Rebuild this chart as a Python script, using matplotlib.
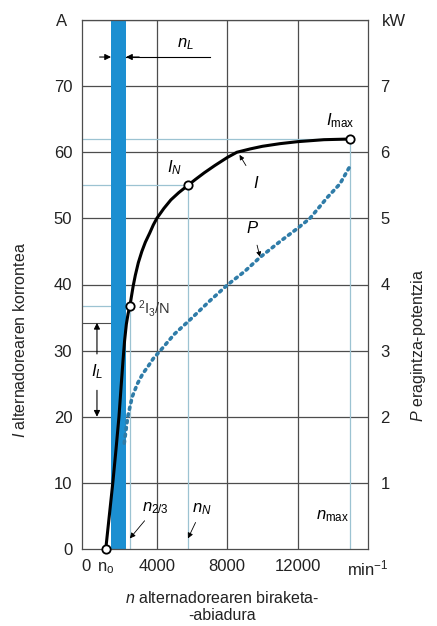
import matplotlib
matplotlib.use("Agg")
import matplotlib.pyplot as plt

plt.rcParams['font.family'] = ['Liberation Sans', 'DejaVu Sans']
plt.rcParams['mathtext.fontset'] = 'custom'
plt.rcParams['mathtext.rm'] = 'Liberation Sans'
plt.rcParams['mathtext.it'] = 'Liberation Sans:italic'

# Alternator current I (A) versus speed n (min^-1)
n_current = [1100, 1300, 1500, 1680, 1850, 1970, 2080, 2170, 2270, 2370, 2470, 2560,
             2660, 2780, 2950, 3150, 3350, 3600, 3800, 4000, 4400, 4800, 5250, 5770,
             6200, 6700, 7300, 8000, 8550, 9300, 10000, 11000, 12000, 13500, 15000]
current = [0, 5, 10, 15, 20, 24.5, 28.5, 31.5, 34, 35.6, 36.7, 38.2,
           39.8, 41.4, 43.3, 45, 46.4, 47.8, 49, 50, 51.5, 52.8, 53.9, 55,
           55.9, 56.9, 58, 59.2, 60, 60.5, 60.9, 61.3, 61.6, 61.9, 62]

# Output power P (kW) versus speed n
n_power = [2150, 2250, 2350, 2600, 2900, 3200, 3500, 3800, 4200, 5000, 5900, 7000,
           8040, 9000, 9860, 11000, 12000, 12700, 13700, 14400, 15000]
power = [1.6, 1.8, 2.0, 2.3, 2.5, 2.65, 2.76, 2.88, 3.0, 3.25, 3.47, 3.75,
         4.0, 4.2, 4.41, 4.65, 4.85, 5.0, 5.32, 5.52, 5.8]

# Characteristic operating points
n0 = 1100
n_23, I_23 = 2470, 36.7
n_N, I_N = 5770, 55
n_max, I_max = 15000, 62
band_lo, band_hi = 1400, 2250          # idle speed range n_L
I_L_top = 34.2                           # idle current I_L range top
I_L_bot = 20

x_ticks = [0, 4000, 8000, 12000]
y_ticks = [0, 10, 20, 30, 40, 50, 60, 70]
p_ticks = [1, 2, 3, 4, 5, 6, 7]

GRID = '#4d4d4d'
AUX = '#9cc3d2'
BLUE = '#1c8fd1'
PCOL = '#2f7ca8'

fig = plt.figure(figsize=(4.37, 6.26), dpi=100)
ax = fig.add_axes([82/437, 1 - 549/626, (368-82)/437, (549-20)/626])
ax.set_xlim(-250, 16000)
ax.set_ylim(0, 80)

# grid
for x in x_ticks[1:]:
    ax.axvline(x, color=GRID, lw=0.9, zorder=1)
for y in y_ticks[1:] + [80]:
    ax.axhline(y, color=GRID, lw=0.9, zorder=1)
for s in ax.spines.values():
    s.set_color(GRID)
    s.set_linewidth(0.9)

# idle speed band
ax.axvspan(band_lo, band_hi, color=BLUE, zorder=2, lw=0)

# auxiliary lines to the characteristic points
ax.plot([-250, n_max], [I_max, I_max], color=AUX, lw=0.9, zorder=1.5)
ax.plot([n_max, n_max], [0, I_max], color=AUX, lw=0.9, zorder=1.5)
ax.plot([-250, n_N], [I_N, I_N], color=AUX, lw=0.9, zorder=1.5)
ax.plot([n_N, n_N], [0, I_N], color=AUX, lw=0.9, zorder=1.5)
ax.plot([-250, n_23], [I_23, I_23], color=AUX, lw=0.9, zorder=1.5)
ax.plot([n_23, n_23], [0, I_23], color=AUX, lw=0.9, zorder=1.5)
ax.plot([-250, band_lo], [I_L_top, I_L_top], color=GRID, lw=0.8, zorder=1.5)

# n_L dimension
yL = 74.4
ax.plot([band_hi, 7000], [yL, yL], color='black', lw=0.8, zorder=3)
ax.annotate('', xy=(band_lo, yL), xytext=(750, yL),
            arrowprops=dict(arrowstyle='-|>', color='black', lw=0.8,
                            mutation_scale=9, shrinkA=0, shrinkB=0), zorder=3)
ax.annotate('', xy=(band_hi, yL), xytext=(3000, yL),
            arrowprops=dict(arrowstyle='-|>', color='black', lw=0.8,
                            mutation_scale=9, shrinkA=0, shrinkB=0), zorder=3)
ax.text(5600, 75.2, r'$n_L$', fontsize=12, ha='center', va='bottom')

# I_L dimension
xL = 600
ax.annotate('', xy=(xL, I_L_top), xytext=(xL, 29.5),
            arrowprops=dict(arrowstyle='-|>', color='black', lw=0.8,
                            mutation_scale=9, shrinkA=0, shrinkB=0))
ax.annotate('', xy=(xL, I_L_bot), xytext=(xL, 24.0),
            arrowprops=dict(arrowstyle='-|>', color='black', lw=0.8,
                            mutation_scale=9, shrinkA=0, shrinkB=0))
ax.text(xL, 26.8, r'$I_L$', fontsize=12, ha='center', va='center')

# power curve on the right axis
ax2 = ax.twinx()
ax2.set_ylim(0, 8)
ax2.plot(n_power, power, color=PCOL, lw=2.6, linestyle=(0, (0.6, 1.3)),
         dash_capstyle='round', zorder=3)

# current curve
ax.plot(n_current, current, color='black', lw=2.2, zorder=4,
        solid_capstyle='round', solid_joinstyle='round')
ax.plot([n0, n_23, n_N, n_max], [0, I_23, I_N, I_max], 'o', ms=6,
        mfc='white', mec='black', mew=1.3, zorder=5, clip_on=False)

# labels on the curves
ax.text(14400, 63.4, r'$I_{\mathrm{max}}$', fontsize=12, ha='center', va='bottom')
ax.text(5000, 57.6, r'$I_N$', fontsize=12, ha='center', va='center')
ax.annotate(r'$I$', xy=(8700, 59.6), xytext=(9650, 55.4), fontsize=12,
            ha='center', va='center',
            arrowprops=dict(arrowstyle='-|>', color='black', lw=0.6,
                            mutation_scale=7, shrinkA=6, shrinkB=0))
ax.annotate(r'$P$', xy=(9860, 44.2), xytext=(9450, 48.6), fontsize=12,
            ha='center', va='center',
            arrowprops=dict(arrowstyle='-|>', color='black', lw=0.6,
                            mutation_scale=7, shrinkA=5, shrinkB=0), zorder=6)
ax.text(2950, 36.3, r'$^{2}\mathrm{I}_{3}/\mathrm{N}$', fontsize=10.5,
        ha='left', va='center', color='#333333')
ax.annotate(r'$n_{2/3}$', xy=(n_23, 1.6), xytext=(3150, 6.2), fontsize=12,
            ha='left', va='center',
            arrowprops=dict(arrowstyle='-|>', color='black', lw=0.6,
                            mutation_scale=8, shrinkA=2, shrinkB=0))
ax.annotate(r'$n_N$', xy=(n_N, 1.6), xytext=(6000, 6.0), fontsize=12,
            ha='left', va='center',
            arrowprops=dict(arrowstyle='-|>', color='black', lw=0.6,
                            mutation_scale=8, shrinkA=2, shrinkB=0))
ax.text(14000, 5.0, r'$n_{\mathrm{max}}$', fontsize=12, ha='center', va='center')

# ticks
ax.set_xticks(x_ticks + [16000])
ax.set_xticklabels(['0', '4000', '8000', '12000', 'min$^{-1}$'], fontsize=12,
                   color='#222222')
ax.set_yticks(y_ticks)
ax.set_yticklabels([str(v) for v in y_ticks], fontsize=12, color='#222222')
ax.tick_params(length=0, pad=7)
ax2.set_yticks(p_ticks)
ax2.set_yticklabels([str(v) for v in p_ticks], fontsize=12, color='#222222')
ax2.tick_params(length=0, pad=9)
for s in ax2.spines.values():
    s.set_visible(False)
ax.text(n0, -1.7, 'n$_{\\mathrm{o}}$', fontsize=12, ha='center', va='top',
        color='#222222')

# units and axis titles
fig.text(62/437, 1 - 22/626, 'A', fontsize=12, ha='center', va='center', color='#222222')
fig.text(394/437, 1 - 22/626, 'kW', fontsize=12, ha='center', va='center', color='#222222')
fig.text(20/437, 1 - 340/626, r'$I$ alternadorearen korrontea', fontsize=11.5,
         rotation=90, ha='center', va='center', color='#222222')
fig.text(418/437, 1 - 345/626, r'$P$ eragintza-potentzia', fontsize=11.5,
         rotation=90, ha='center', va='center', color='#222222')
fig.text(222/437, 1 - 598/626, r'$n$ alternadorearen biraketa-', fontsize=11.5,
         ha='center', va='center', color='#222222')
fig.text(222/437, 1 - 616/626, '-abiadura', fontsize=11.5,
         ha='center', va='center', color='#222222')

fig.savefig('out.png', dpi=100, facecolor='white')
